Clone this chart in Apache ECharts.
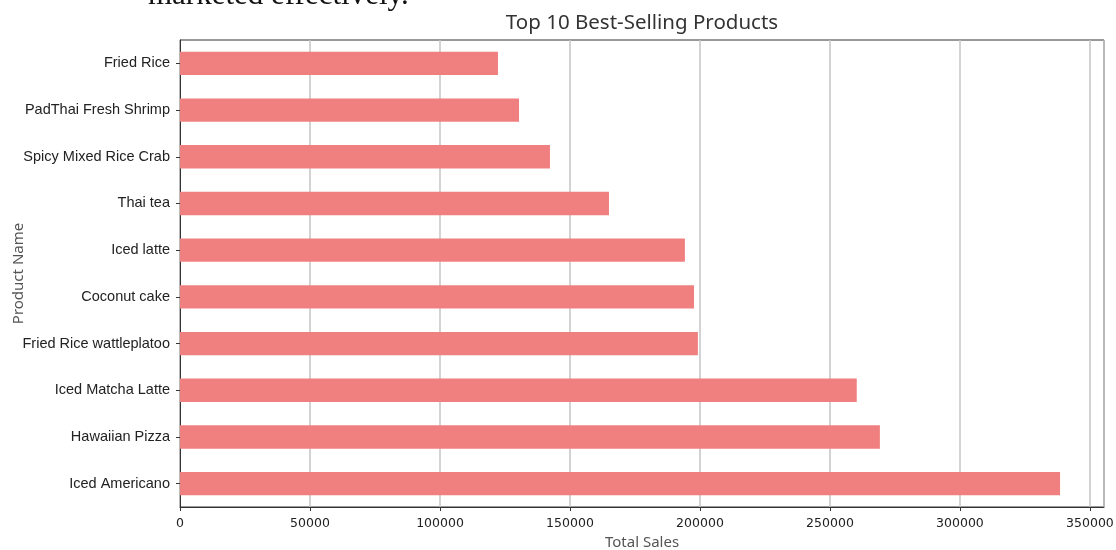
<!DOCTYPE html>
<html>
<head>
<meta charset="utf-8">
<title>Top 10 Best-Selling Products</title>
<script src="https://cdn.jsdelivr.net/npm/echarts@6/dist/echarts.min.js"></script>
<style>
  html, body { margin: 0; padding: 0; background: #fff; }
  #chart { width: 1116px; height: 550px; }
</style>
</head>
<body>
<div id="chart"></div>
<script>
// Products, listed top to bottom as they appear in the chart
const products = [
  'Fried Rice',
  'PadThai Fresh Shrimp',
  'Spicy Mixed Rice Crab',
  'Thai tea',
  'Iced latte',
  'Coconut cake',
  'Fried Rice wattleplatoo',
  'Iced Matcha Latte',
  'Hawaiian Pizza',
  'Iced Americano'
];

// Total sales per product
const totalSales = [122300, 130400, 142300, 165000, 194200, 197700, 199200, 260300, 269200, 338500];

const salesMax = 355400;
const salesStep = 50000;

const chart = echarts.init(document.getElementById('chart'));

const option = {
  animation: false,
  backgroundColor: '#fff',
  graphic: [
    {
      // caption of the surrounding page, cut off at the top
      type: 'text',
      x: 148,
      y: 11,
      style: {
        text: 'marketed effectively.',
        font: '31px "Liberation Serif", serif',
        fill: '#111',
        align: 'left',
        verticalAlign: 'bottom'
      }
    },
    {
      type: 'text',
      x: 642,
      y: 23,
      style: {
        text: 'Top 10 Best-Selling Products',
        font: '20.5px "Noto Sans", sans-serif',
        fill: '#333',
        align: 'center',
        verticalAlign: 'middle'
      }
    }
  ],
  grid: {
    left: 180,
    right: 12,
    top: 40,
    bottom: 43,
    outerBoundsMode: 'none',
    containLabel: false,
    show: true,
    borderColor: '#333',
    borderWidth: 1,
    backgroundColor: '#fff'
  },
  xAxis: {
    type: 'value',
    min: 0,
    max: salesMax,
    interval: salesStep,
    name: 'Total Sales',
    nameLocation: 'middle',
    nameGap: 28,
    nameMoveOverlap: false,
    nameTextStyle: { fontSize: 15, color: '#555', fontFamily: '"Noto Sans", sans-serif' },
    axisLine: { show: true, lineStyle: { color: '#333', width: 1 } },
    axisTick: { show: true, length: 4, lineStyle: { color: '#333' } },
    axisLabel: {
      showMaxLabel: false,
      margin: 10,
      fontSize: 12.5,
      color: '#222',
      fontFamily: '"DejaVu Sans", sans-serif',
      formatter: (v) => String(v)
    },
    splitLine: { show: true, lineStyle: { color: '#c4c4c4', width: 1.5 } }
  },
  yAxis: {
    type: 'category',
    data: products,
    inverse: true,
    name: 'Product Name',
    nameLocation: 'middle',
    nameRotate: 90,
    nameGap: 154,
    nameMoveOverlap: false,
    nameTextStyle: { fontSize: 15, color: '#555', fontFamily: '"Noto Sans", sans-serif' },
    axisLine: { show: true, lineStyle: { color: '#333', width: 1 } },
    axisTick: { show: true, length: 4, alignWithLabel: true, lineStyle: { color: '#333' } },
    axisLabel: {
      margin: 10,
      fontSize: 14.5,
      color: '#222',
      fontFamily: '"Liberation Sans", Arial, sans-serif'
    },
    splitLine: { show: false }
  },
  series: [
    {
      name: 'Total Sales',
      type: 'bar',
      data: totalSales,
      barWidth: '50%',
      itemStyle: { color: '#f08080' }
    }
  ]
};

chart.setOption(option);
</script>
</body>
</html>
